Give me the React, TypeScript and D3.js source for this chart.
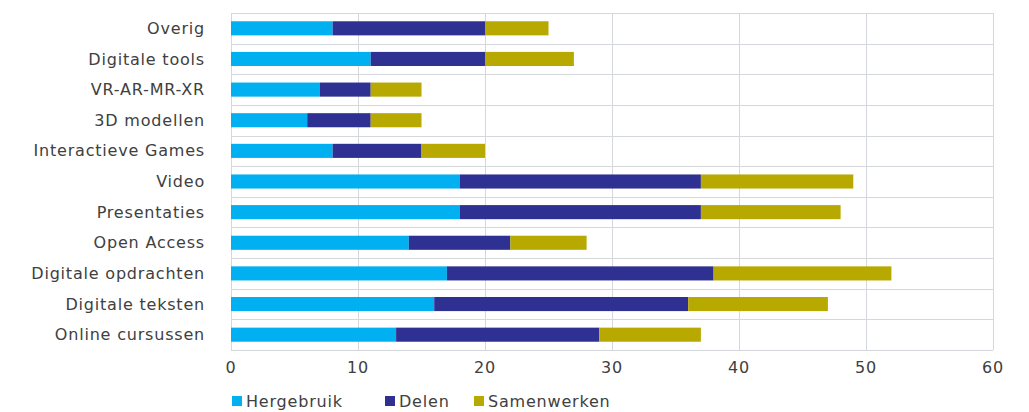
import * as d3 from "d3";
import React, { useRef, useEffect } from "react";

const categories = [
  "Overig",
  "Digitale tools",
  "VR-AR-MR-XR",
  "3D modellen",
  "Interactieve Games",
  "Video",
  "Presentaties",
  "Open Access",
  "Digitale opdrachten",
  "Digitale teksten",
  "Online cursussen",
];
const hergebruik = [8, 11, 7, 6, 8, 18, 18, 14, 17, 16, 13];
const delen = [12, 9, 4, 5, 7, 19, 19, 8, 21, 20, 16];
const samenwerken = [5, 7, 4, 4, 5, 12, 11, 6, 14, 11, 8];
const seriesNames = ["Hergebruik", "Delen", "Samenwerken"];
const colors = ["#00B0F0", "#2E3192", "#B8A900"];
const xTicks = [0, 10, 20, 30, 40, 50, 60];

const width = 1029;
const height = 412;
const margin = { top: 13, right: 36, bottom: 62, left: 231 };
const font = "'DejaVu Sans', sans-serif";
const fontSize = 16;
const spacing = 0.8;
const textColor = "#404040";
const gridColor = "#D4D7DB";

export default function App() {
  const ref = useRef(null);

  useEffect(() => {
    const svg = d3.select(ref.current);
    svg.selectAll("*").remove();

    const rows = categories.map((c, i) => ({
      cat: c,
      Hergebruik: hergebruik[i],
      Delen: delen[i],
      Samenwerken: samenwerken[i],
    }));
    const stacked = d3.stack<any>().keys(seriesNames)(rows);

    const x = d3
      .scaleLinear()
      .domain([0, 60])
      .range([margin.left, width - margin.right]);
    const y = d3
      .scaleBand()
      .domain(categories)
      .range([margin.top, height - margin.bottom])
      .paddingInner(0.54)
      .paddingOuter(0.27);
    const band = d3
      .scaleBand()
      .domain(categories)
      .range([margin.top, height - margin.bottom]);

    // Grid
    const grid = svg.append("g").attr("stroke", gridColor).attr("stroke-width", 1);
    grid
      .selectAll("line.v")
      .data(xTicks)
      .join("line")
      .attr("class", "v")
      .attr("x1", (d) => Math.round(x(d)) + 0.5)
      .attr("x2", (d) => Math.round(x(d)) + 0.5)
      .attr("y1", margin.top)
      .attr("y2", height - margin.bottom);
    const hLines = categories.map((c) => band(c) as number).concat([height - margin.bottom]);
    grid
      .selectAll("line.h")
      .data(hLines)
      .join("line")
      .attr("class", "h")
      .attr("x1", margin.left)
      .attr("x2", width - margin.right)
      .attr("y1", (d) => Math.round(d) + 0.5)
      .attr("y2", (d) => Math.round(d) + 0.5);

    // Bars
    svg
      .append("g")
      .selectAll("g")
      .data(stacked)
      .join("g")
      .attr("fill", (_d, i) => colors[i])
      .selectAll("rect")
      .data((d) => d)
      .join("rect")
      .attr("x", (d) => x(d[0]))
      .attr("y", (d: any) => y(d.data.cat) as number)
      .attr("width", (d) => x(d[1]) - x(d[0]))
      .attr("height", y.bandwidth());

    // Y labels
    svg
      .append("g")
      .selectAll("text")
      .data(categories)
      .join("text")
      .attr("x", margin.left - 26)
      .attr("y", (d) => (band(d) as number) + band.bandwidth() / 2)
      .attr("dy", "0.35em")
      .attr("text-anchor", "end")
      .attr("font-family", font)
      .attr("font-size", fontSize)
      .attr("letter-spacing", spacing)
      .attr("fill", textColor)
      .text((d) => d);

    // X labels
    svg
      .append("g")
      .selectAll("text")
      .data(xTicks)
      .join("text")
      .attr("x", (d) => x(d))
      .attr("y", height - margin.bottom + 23)
      .attr("text-anchor", "middle")
      .attr("font-family", font)
      .attr("font-size", fontSize)
      .attr("letter-spacing", spacing)
      .attr("fill", textColor)
      .text((d) => d);

    // Legend
    const legendX = [232, 385, 474];
    const legend = svg
      .append("g")
      .selectAll("g")
      .data(seriesNames)
      .join("g")
      .attr("transform", (_d, i) => `translate(${legendX[i]}, 396)`);
    legend
      .append("rect")
      .attr("width", 10)
      .attr("height", 10)
      .attr("fill", (_d, i) => colors[i]);
    legend
      .append("text")
      .attr("x", 14)
      .attr("y", 5)
      .attr("dy", "0.35em")
      .attr("font-family", font)
      .attr("font-size", fontSize)
      .attr("letter-spacing", spacing)
      .attr("fill", textColor)
      .text((d) => d);
  }, []);

  return (
    <svg
      ref={ref}
      width={width}
      height={height}
      style={{ position: "absolute", left: 0, top: 0, background: "#fff" }}
    />
  );
}
